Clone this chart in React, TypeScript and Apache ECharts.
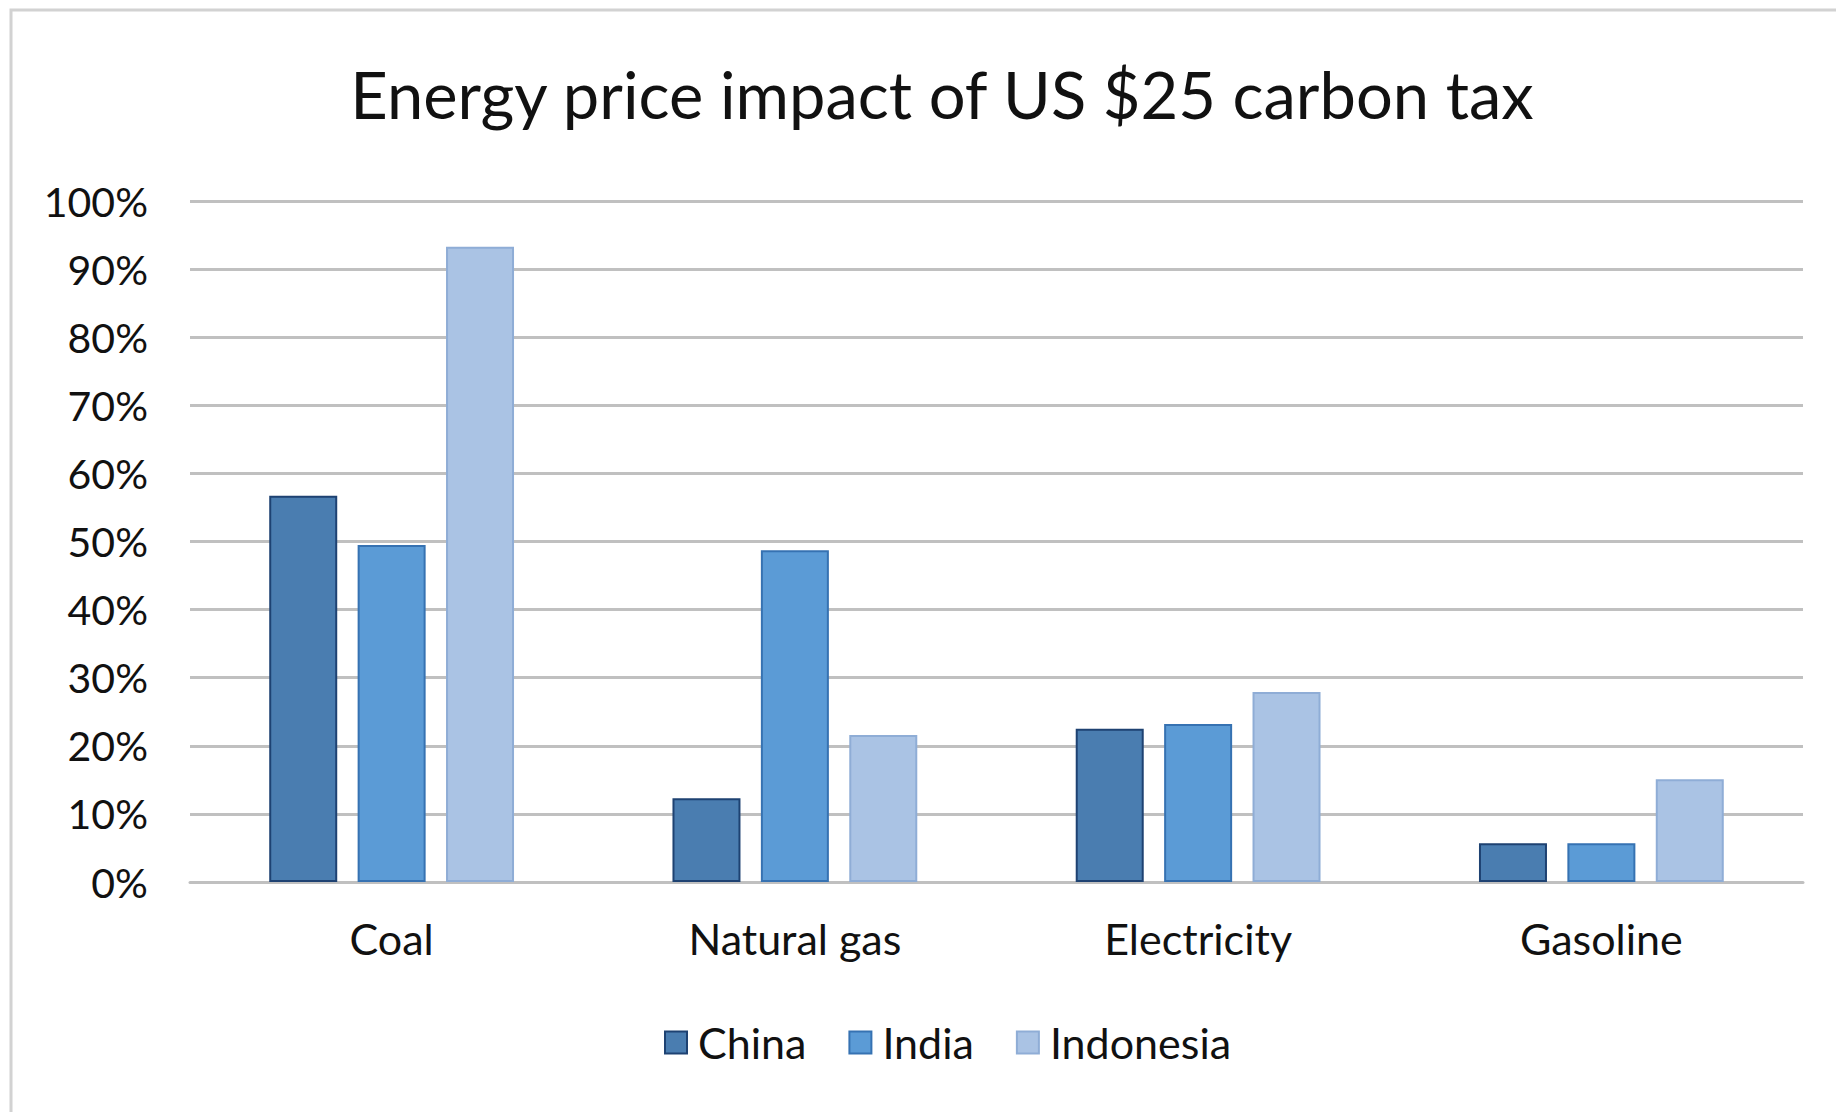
import React, { useEffect, useRef } from "react";
import * as echarts from "echarts";

const categories = ["Coal", "Natural gas", "Electricity", "Gasoline"];
const seriesNames = ["China", "India", "Indonesia"];
const chinaValues = [56.7, 12.3, 22.5, 5.7];
const indiaValues = [49.5, 48.7, 23.2, 5.7];
const indonesiaValues = [93.3, 21.6, 27.9, 15.1];
const yTicks = [0, 10, 20, 30, 40, 50, 60, 70, 80, 90, 100];

const fills = ["#4A7DB0", "#5B9BD6", "#AAC3E4"];
const borders = ["#1E4272", "#3672B2", "#8FADD6"];
const FONT = "Lato";

export default function App() {
  const ref = useRef<HTMLDivElement>(null);
  useEffect(() => {
    document.body.style.margin = "0";
    const chart = echarts.init(ref.current!, undefined, { renderer: "svg" });
    const values = [chinaValues, indiaValues, indonesiaValues];
    chart.setOption({
      animation: false,
      backgroundColor: "#ffffff",
      title: {
        text: "Energy price impact of US $25 carbon tax",
        left: 937,
        textAlign: "center",
        top: 56,
        textStyle: { fontFamily: FONT, fontSize: 65, fontWeight: "normal", color: "#111" },
      },
      legend: {
        left: 659,
        top: 1016,
        itemWidth: 22,
        itemHeight: 22,
        itemGap: 42,
        icon: "rect",
        textStyle: { fontFamily: FONT, fontSize: 43, color: "#111", padding: [0, 0, 0, 6] },
        data: seriesNames,
      },
      grid: { left: 190, right: 33, top: 201, bottom: 230, containLabel: false },
      xAxis: {
        type: "category",
        data: categories,
        axisLine: { show: true, lineStyle: { color: "#C0C0C0", width: 3 } },
        axisTick: { show: false },
        axisLabel: { fontFamily: FONT, fontSize: 43, color: "#111", margin: 35 },
      },
      yAxis: {
        type: "value",
        min: 0,
        max: 100,
        interval: 10,
        axisLine: { show: false },
        axisTick: { show: false },
        splitLine: { lineStyle: { color: "#C0C0C0", width: 3 } },
        axisLabel: {
          fontFamily: FONT,
          fontSize: 41,
          color: "#111",
          margin: 42,
          formatter: (v: number) => (yTicks.includes(v) ? v + "%" : ""),
        },
      },
      series: seriesNames.map((name, i) => ({
        name,
        type: "bar",
        data: values[i],
        barWidth: 68,
        barGap: "30%",
        itemStyle: { color: fills[i], borderColor: borders[i], borderWidth: 2 },
      })),
      graphic: [
        {
          type: "rect",
          silent: true,
          shape: { x: 11, y: 10, width: 2000, height: 2000 },
          style: { fill: "none", stroke: "#D2D2D2", lineWidth: 3 },
        },
      ],
    });
    return () => chart.dispose();
  }, []);
  return <div ref={ref} style={{ width: 1836, height: 1112 }} />;
}
